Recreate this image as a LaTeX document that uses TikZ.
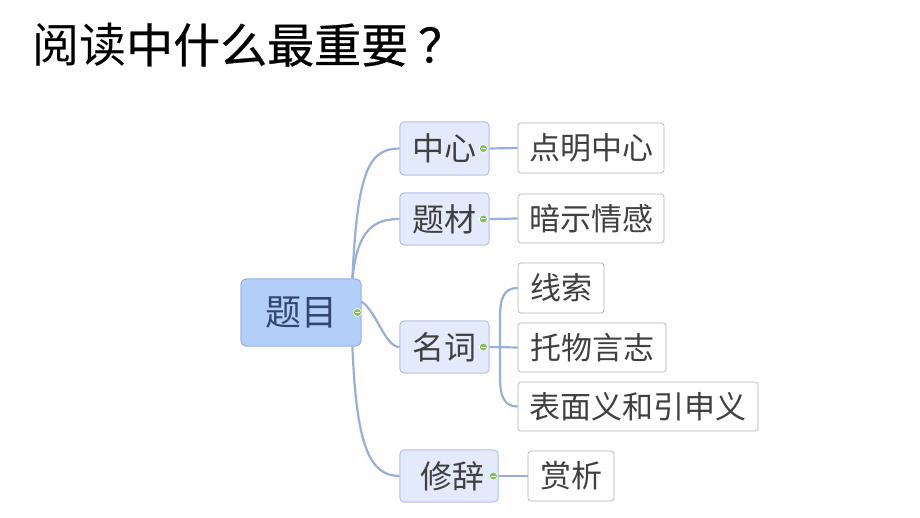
\documentclass[tikz,border=0pt]{standalone}
\usepackage{fontspec}
\setmainfont{Noto Sans CJK SC}
\newfontfamily\cjk{Noto Sans CJK SC}
\newfontfamily\cjkb[FakeBold=0.6]{Noto Sans CJK SC}
\definecolor{linec}{HTML}{9AAEDC}
\definecolor{rootfill}{HTML}{B3CEF9}
\definecolor{rootdraw}{HTML}{8FAEE6}
\definecolor{mainfill}{HTML}{E2EAFC}
\definecolor{maindraw}{HTML}{AEBCE0}
\definecolor{leafdraw}{HTML}{B4B4B4}
\definecolor{txt}{HTML}{404040}
\definecolor{roottxt}{HTML}{34466E}
\definecolor{dotg}{HTML}{7CC552}
\tikzset{
  conn/.style={draw=linec, line width=2.2pt},
  rootbox/.style={draw=rootdraw, fill=rootfill, rounded corners=5pt, line width=0.8pt,
    text=roottxt, font=\cjk\fontsize{36}{40}\selectfont, inner sep=0pt},
  mainbox/.style={draw=maindraw, fill=mainfill, rounded corners=4pt, line width=0.7pt,
    text=txt, font=\cjk\fontsize{32}{36}\selectfont, inner sep=0pt},
  leafbox/.style={draw=leafdraw, fill=white, rounded corners=3pt, line width=0.7pt,
    text=txt, font=\cjk\fontsize{31}{35}\selectfont, inner sep=0pt},
  gdot/.style={circle, fill=dotg, draw=white, line width=0.6pt, minimum size=8pt, inner sep=0pt},
}
\begin{document}
\begin{tikzpicture}[x=1pt,y=-1pt]
\useasboundingbox (0,0) rectangle (920,518);
\fill[white] (0,0) rectangle (920,518);
% title
\node[anchor=west, inner sep=0pt, text=black] (title) at (32,45)
  {\cjk\fontsize{47}{50}\selectfont 阅读\cjkb 中什么最重要\hspace{10pt}？};
\coordinate (rt) at (352,279);
% nodes
\node[rootbox, minimum width=120pt, minimum height=67pt] (root) at (301,312.5) {题目};
\node[mainbox, minimum width=89pt, minimum height=53pt] (m1) at (444.5,148.5) {中心};
\node[mainbox, minimum width=89pt, minimum height=52pt] (m2) at (444.5,219) {题材};
\node[mainbox, minimum width=89pt, minimum height=52pt] (m3) at (444.5,347) {名词};
\node[mainbox, minimum width=98pt, minimum height=52pt] (m4) at (449,476) {\hspace*{6pt}修辞};
\node[leafbox, minimum width=146pt, minimum height=50pt] (l1) at (591,148) {点明中心};
\node[leafbox, minimum width=146pt, minimum height=49pt] (l2) at (591,218.5) {暗示情感};
\node[leafbox, minimum width=86pt, minimum height=50pt] (l3) at (561,288) {线索};
\node[leafbox, minimum width=148pt, minimum height=49pt] (l4) at (592,347.5) {托物言志};
\node[leafbox, minimum width=240pt, minimum height=49pt] (l5) at (638,406.5) {表面义和引申义};
\node[leafbox, minimum width=86pt, minimum height=50pt] (l6) at (571,476) {赏析};
% root connectors
\draw[conn] ([xshift=-9pt]root.north east) .. controls +(5,-110) and +(-30,0) .. (m1.west);
\draw[conn] ([xshift=-9pt]root.north east) .. controls +(5,-50) and +(-25,0) .. (m2.west);
\draw[conn] ([yshift=-23pt]root.north east) .. controls +(15,9) and +(-15,0) .. (m3.west);
\draw[conn] ([xshift=-9pt]root.south east) .. controls +(4,100) and +(-30,0) .. (m4.west);
% child connectors
\draw[conn] (m1.east) -- (l1.west);
\draw[conn] (m2.east) -- (l2.west);
\draw[conn] (m3.east) -- (l4.west);
\draw[conn] (m4.east) -- (l6.west);
\coordinate (bx) at (500,347);
\draw[conn] (l3.west) .. controls +(-14,0) and +(0,-20) .. (bx |- 320,318) -- (bx |- 380,376) .. controls +(0,20) and +(-14,0) .. (l5.west);
% redraw node boxes on top of connector ends
\node[rootbox, minimum width=120pt, minimum height=67pt] at (root) {题目};
\node[mainbox, minimum width=89pt, minimum height=53pt] at (m1) {中心};
\node[mainbox, minimum width=89pt, minimum height=52pt] at (m2) {题材};
\node[mainbox, minimum width=89pt, minimum height=52pt] at (m3) {名词};
\node[mainbox, minimum width=98pt, minimum height=52pt] at (m4) {\hspace*{6pt}修辞};
% green toggles
\node[gdot] (g0) at ([xshift=-4pt]root.east) {};
\node[gdot] (g1) at ([xshift=-6pt]m1.east) {};
\node[gdot] (g2) at ([xshift=-6pt]m2.east) {};
\node[gdot] (g3) at ([xshift=-6pt]m3.east) {};
\node[gdot] (g4) at ([xshift=-5pt]m4.east) {};
\foreach \g in {g0,g1,g2,g3,g4}{
  \draw[white, line width=1pt] ([xshift=-2.2pt]\g.center) -- ([xshift=2.2pt]\g.center);
}
\end{tikzpicture}
\end{document}
